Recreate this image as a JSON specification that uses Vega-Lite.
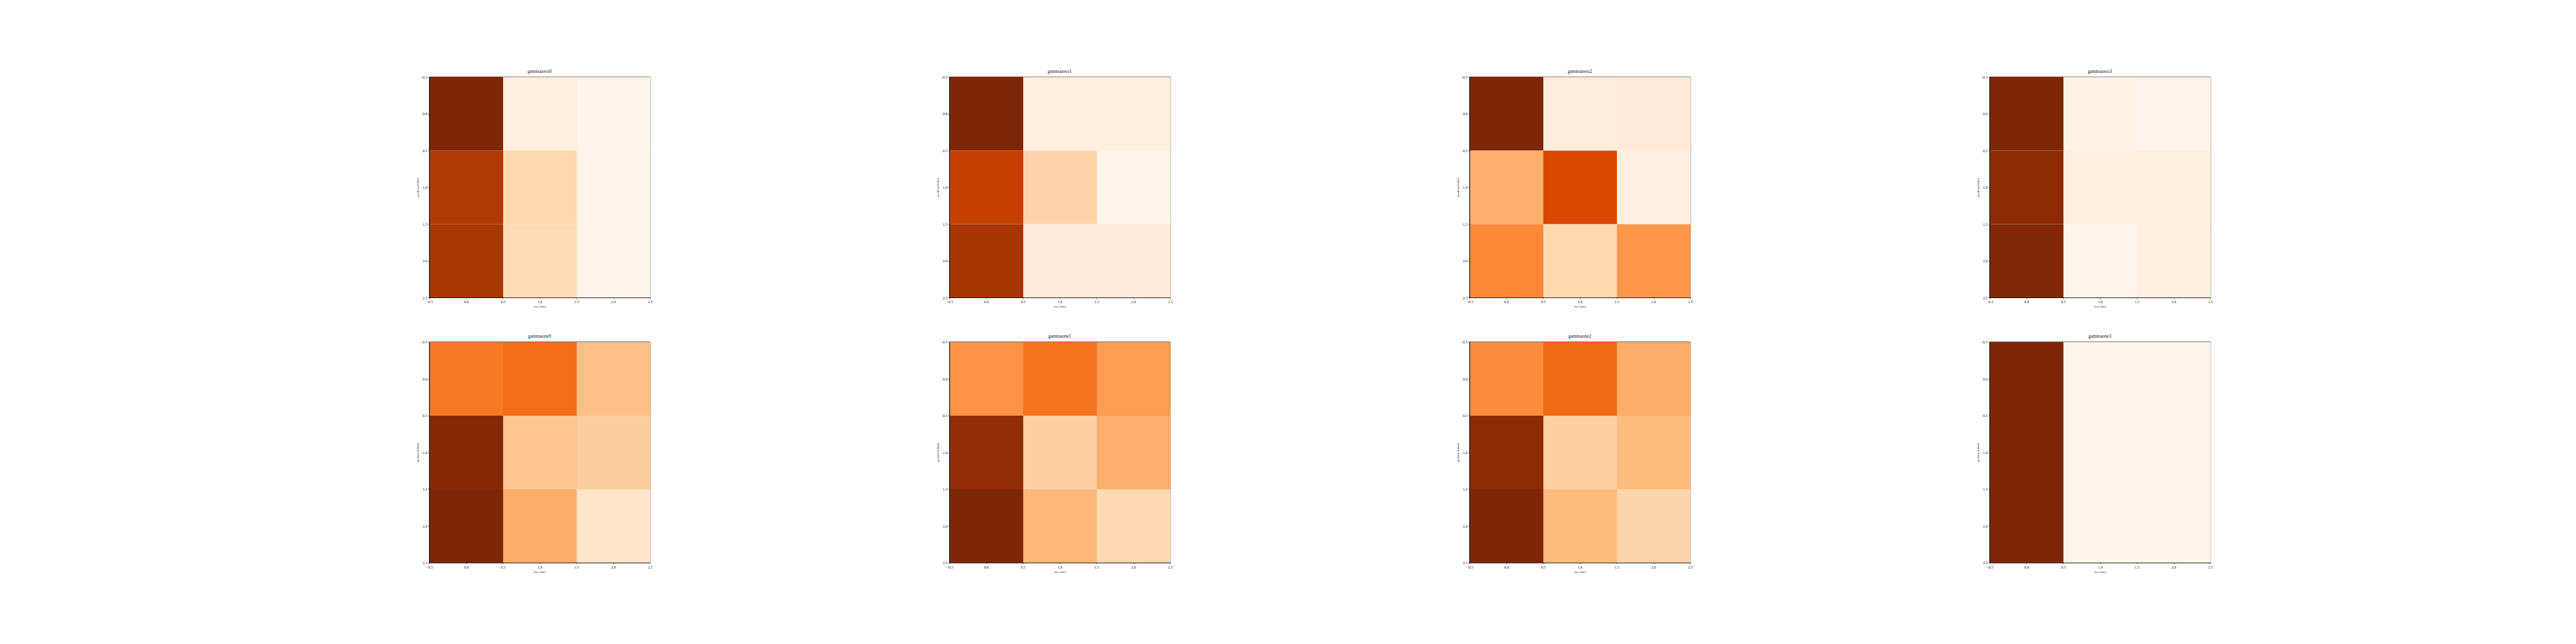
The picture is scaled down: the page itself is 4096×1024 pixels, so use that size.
{
  "$schema": "https://vega.github.io/schema/vega-lite/v6.json",
  "background": "white",
  "padding": {"left": 660.5, "top": 109, "right": 0, "bottom": 0},
  "bounds": "flush",
  "data": {"values": [
    {"panel": "gammazero0", "truth": 0, "pred": 0, "value": 1.0},
    {"panel": "gammazero0", "truth": 1, "pred": 0, "value": 0.05},
    {"panel": "gammazero0", "truth": 2, "pred": 0, "value": 0.0},
    {"panel": "gammazero0", "truth": 0, "pred": 1, "value": 0.85},
    {"panel": "gammazero0", "truth": 1, "pred": 1, "value": 0.21},
    {"panel": "gammazero0", "truth": 2, "pred": 1, "value": 0.01},
    {"panel": "gammazero0", "truth": 0, "pred": 2, "value": 0.87},
    {"panel": "gammazero0", "truth": 1, "pred": 2, "value": 0.19},
    {"panel": "gammazero0", "truth": 2, "pred": 2, "value": 0.01},

    {"panel": "gammazero1", "truth": 0, "pred": 0, "value": 1.0},
    {"panel": "gammazero1", "truth": 1, "pred": 0, "value": 0.05},
    {"panel": "gammazero1", "truth": 2, "pred": 0, "value": 0.05},
    {"panel": "gammazero1", "truth": 0, "pred": 1, "value": 0.8},
    {"panel": "gammazero1", "truth": 1, "pred": 1, "value": 0.23},
    {"panel": "gammazero1", "truth": 2, "pred": 1, "value": 0.0},
    {"panel": "gammazero1", "truth": 0, "pred": 2, "value": 0.875},
    {"panel": "gammazero1", "truth": 1, "pred": 2, "value": 0.09},
    {"panel": "gammazero1", "truth": 2, "pred": 2, "value": 0.09},

    {"panel": "gammazero2", "truth": 0, "pred": 0, "value": 1.0},
    {"panel": "gammazero2", "truth": 1, "pred": 0, "value": 0.07},
    {"panel": "gammazero2", "truth": 2, "pred": 0, "value": 0.09},
    {"panel": "gammazero2", "truth": 0, "pred": 1, "value": 0.37},
    {"panel": "gammazero2", "truth": 1, "pred": 1, "value": 0.75},
    {"panel": "gammazero2", "truth": 2, "pred": 1, "value": 0.04},
    {"panel": "gammazero2", "truth": 0, "pred": 2, "value": 0.51},
    {"panel": "gammazero2", "truth": 1, "pred": 2, "value": 0.21},
    {"panel": "gammazero2", "truth": 2, "pred": 2, "value": 0.46},

    {"panel": "gammazero3", "truth": 0, "pred": 0, "value": 1.0},
    {"panel": "gammazero3", "truth": 1, "pred": 0, "value": 0.02},
    {"panel": "gammazero3", "truth": 2, "pred": 0, "value": 0.01},
    {"panel": "gammazero3", "truth": 0, "pred": 1, "value": 0.96},
    {"panel": "gammazero3", "truth": 1, "pred": 1, "value": 0.05},
    {"panel": "gammazero3", "truth": 2, "pred": 1, "value": 0.05},
    {"panel": "gammazero3", "truth": 0, "pred": 2, "value": 0.99},
    {"panel": "gammazero3", "truth": 1, "pred": 2, "value": 0.0},
    {"panel": "gammazero3", "truth": 2, "pred": 2, "value": 0.05},

    {"panel": "gammaone0", "truth": 0, "pred": 0, "value": 0.57},
    {"panel": "gammaone0", "truth": 1, "pred": 0, "value": 0.61},
    {"panel": "gammaone0", "truth": 2, "pred": 0, "value": 0.31},
    {"panel": "gammaone0", "truth": 0, "pred": 1, "value": 0.98},
    {"panel": "gammaone0", "truth": 1, "pred": 1, "value": 0.29},
    {"panel": "gammaone0", "truth": 2, "pred": 1, "value": 0.26},
    {"panel": "gammaone0", "truth": 0, "pred": 2, "value": 1.0},
    {"panel": "gammaone0", "truth": 1, "pred": 2, "value": 0.38},
    {"panel": "gammaone0", "truth": 2, "pred": 2, "value": 0.13},

    {"panel": "gammaone1", "truth": 0, "pred": 0, "value": 0.48},
    {"panel": "gammaone1", "truth": 1, "pred": 0, "value": 0.59},
    {"panel": "gammaone1", "truth": 2, "pred": 0, "value": 0.44},
    {"panel": "gammaone1", "truth": 0, "pred": 1, "value": 0.94},
    {"panel": "gammaone1", "truth": 1, "pred": 1, "value": 0.25},
    {"panel": "gammaone1", "truth": 2, "pred": 1, "value": 0.37},
    {"panel": "gammaone1", "truth": 0, "pred": 2, "value": 1.0},
    {"panel": "gammaone1", "truth": 1, "pred": 2, "value": 0.34},
    {"panel": "gammaone1", "truth": 2, "pred": 2, "value": 0.2},

    {"panel": "gammaone2", "truth": 0, "pred": 0, "value": 0.5},
    {"panel": "gammaone2", "truth": 1, "pred": 0, "value": 0.62},
    {"panel": "gammaone2", "truth": 2, "pred": 0, "value": 0.38},
    {"panel": "gammaone2", "truth": 0, "pred": 1, "value": 0.96},
    {"panel": "gammaone2", "truth": 1, "pred": 1, "value": 0.25},
    {"panel": "gammaone2", "truth": 2, "pred": 1, "value": 0.33},
    {"panel": "gammaone2", "truth": 0, "pred": 2, "value": 1.0},
    {"panel": "gammaone2", "truth": 1, "pred": 2, "value": 0.33},
    {"panel": "gammaone2", "truth": 2, "pred": 2, "value": 0.22},

    {"panel": "gammaone3", "truth": 0, "pred": 0, "value": 1.0},
    {"panel": "gammaone3", "truth": 1, "pred": 0, "value": 0.0},
    {"panel": "gammaone3", "truth": 2, "pred": 0, "value": 0.0},
    {"panel": "gammaone3", "truth": 0, "pred": 1, "value": 1.0},
    {"panel": "gammaone3", "truth": 1, "pred": 1, "value": 0.0},
    {"panel": "gammaone3", "truth": 2, "pred": 1, "value": 0.0},
    {"panel": "gammaone3", "truth": 0, "pred": 2, "value": 1.0},
    {"panel": "gammaone3", "truth": 1, "pred": 2, "value": 0.0},
    {"panel": "gammaone3", "truth": 2, "pred": 2, "value": 0.0}
  ]},
  "facet": {
    "field": "panel",
    "type": "nominal",
    "sort": ["gammazero0", "gammazero1", "gammazero2", "gammazero3", "gammaone0", "gammaone1", "gammaone2", "gammaone3"],
    "header": {"title": null, "labelFont": "Liberation Serif", "labelFontSize": 7.5, "labelColor": "#222", "labelPadding": 2}
  },
  "columns": 4,
  "spacing": {"row": 70.5, "column": 476},
  "resolve": {"axis": {"x": "independent", "y": "independent"}},
  "spec": {
    "width": 351,
    "height": 351,
    "mark": {"type": "rect", "strokeWidth": 0},
    "encoding": {
      "x": {
        "field": "truth", "type": "quantitative",
        "bin": {"step": 1, "extent": [-0.5, 2.5], "nice": false},
        "scale": {"domain": [-0.5, 2.5], "nice": false, "zero": false},
        "axis": {"values": [-0.5, 0, 0.5, 1, 1.5, 2, 2.5], "format": ".1f", "title": "true label"}
      },
      "y": {
        "field": "pred", "type": "quantitative",
        "bin": {"step": 1, "extent": [-0.5, 2.5], "nice": false},
        "scale": {"domain": [-0.5, 2.5], "nice": false, "zero": false, "reverse": true},
        "axis": {"values": [-0.5, 0, 0.5, 1, 1.5, 2, 2.5], "format": ".1f", "title": "predicted label"}
      },
      "color": {
        "field": "value", "type": "quantitative",
        "scale": {
          "domain": [0, 0.125, 0.25, 0.375, 0.5, 0.625, 0.75, 0.875, 1],
          "range": ["#fff5eb", "#fee6ce", "#fdd0a2", "#fdae6b", "#fd8d3c", "#f16913", "#d94801", "#a63603", "#7f2704"]
        },
        "legend": null
      }
    }
  },
  "config": {
    "view": {"stroke": "#000", "strokeWidth": 0.8},
    "axis": {
      "grid": false,
      "domainColor": "#000",
      "domainWidth": 0.8,
      "tickColor": "#000",
      "tickSize": 2,
      "tickWidth": 0.6,
      "labelFont": "Liberation Serif",
      "labelFontSize": 6,
      "labelColor": "#222",
      "labelPadding": 1.5,
      "labelFlush": false,
      "labelOverlap": false,
      "titleFont": "Liberation Serif",
      "titleFontSize": 5,
      "titleFontWeight": "normal",
      "titleColor": "#222",
      "titlePadding": 2
    }
  }
}
